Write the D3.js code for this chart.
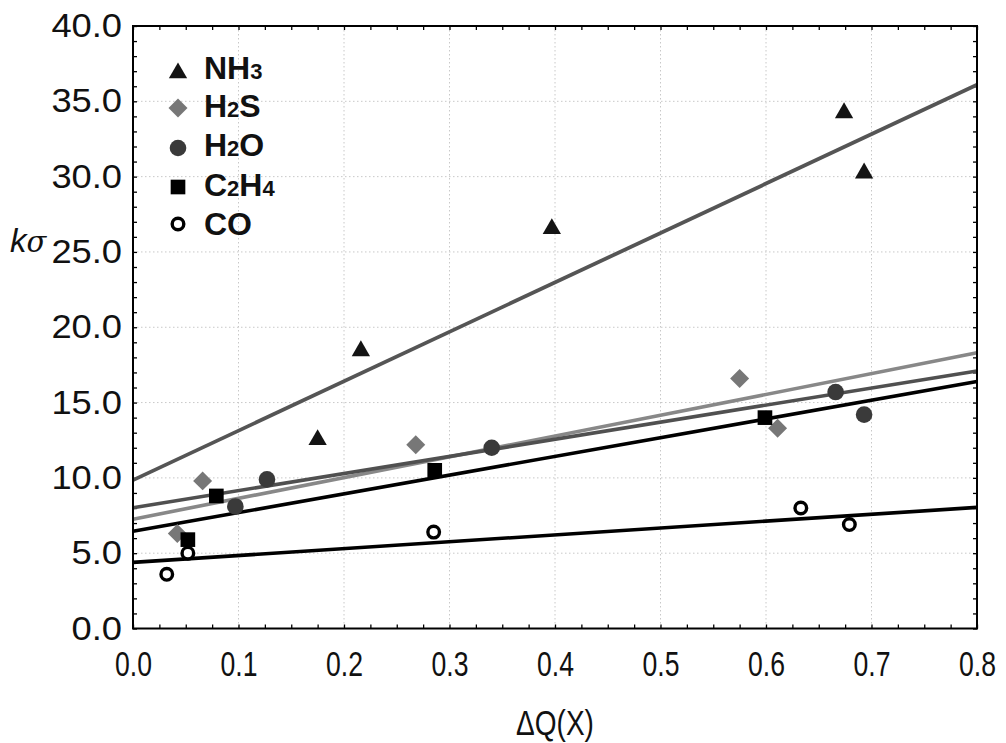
<!DOCTYPE html>
<html><head><meta charset="utf-8">
<script src="https://cdn.jsdelivr.net/npm/d3@7"></script>
<style>body{margin:0;background:#fff}svg{display:block}text{font-family:"Liberation Sans",Arial,sans-serif}</style>
</head><body>
<script>
// ---- data ----
const xTickValues = [0, 0.1, 0.2, 0.3, 0.4, 0.5, 0.6, 0.7, 0.8];
const yTickValues = [0, 5, 10, 15, 20, 25, 30, 35, 40];
const seriesNames = ["NH3", "H2S", "H2O", "C2H4", "CO"];
const nh3X = [0.175, 0.216, 0.397, 0.674, 0.693];
const nh3Y = [12.6, 18.5, 26.6, 34.3, 30.3];
const h2sX = [0.042, 0.066, 0.268, 0.575, 0.611];
const h2sY = [6.3, 9.8, 12.2, 16.6, 13.3];
const h2oX = [0.097, 0.127, 0.340, 0.666, 0.693];
const h2oY = [8.1, 9.9, 12.0, 15.7, 14.2];
const c2h4X = [0.052, 0.079, 0.286, 0.599];
const c2h4Y = [5.9, 8.8, 10.5, 14.0];
const coX = [0.032, 0.052, 0.285, 0.633, 0.679];
const coY = [3.6, 5.0, 6.4, 8.0, 6.9];
// fitted lines: value at x=0 and x=0.8
const fitAt0 = [9.85, 7.26, 8.02, 6.45, 4.39];
const fitAt08 = [36.1, 18.3, 17.1, 16.4, 8.04];

const W = 1006, H = 743;
const L = 133, R = 977, T = 26, B = 628.5;
const svg = d3.select("body").append("svg").attr("width", W).attr("height", H);
const x = d3.scaleLinear().domain([0, 0.8]).range([L, R]);
const y = d3.scaleLinear().domain([0, 40]).range([B, T]);

// grid
const grid = svg.append("g");
grid.selectAll("line.gx").data(xTickValues.slice(1, -1)).join("line")
  .attr("x1", d => x(d)).attr("x2", d => x(d)).attr("y1", T).attr("y2", B)
  .attr("stroke", "#c8c8c8").attr("stroke-width", 1).attr("stroke-dasharray", "1.5,2.5");
grid.selectAll("line.gy").data(yTickValues.slice(1, -1)).join("line")
  .attr("y1", d => y(d)).attr("y2", d => y(d)).attr("x1", L).attr("x2", R)
  .attr("stroke", "#c8c8c8").attr("stroke-width", 1).attr("stroke-dasharray", "1.5,2.5");

// ticks (inward, all four sides)
const xMinor = d3.range(0, 0.8001, 0.025);
const yMinor = d3.range(0, 40.001, 1);
const tk = svg.append("g");
tk.append("g").attr("transform", `translate(0,${B})`)
  .call(d3.axisBottom(x).tickValues(xMinor).tickSize(-4).tickFormat(""));
tk.append("g").attr("transform", `translate(0,${T})`)
  .call(d3.axisTop(x).tickValues(xMinor).tickSize(-4).tickFormat(""));
tk.append("g").attr("transform", `translate(${L},0)`)
  .call(d3.axisLeft(y).tickValues(yMinor).tickSize(-4).tickFormat(""));
tk.append("g").attr("transform", `translate(${R},0)`)
  .call(d3.axisRight(y).tickValues(yMinor).tickSize(-4).tickFormat(""));
tk.selectAll(".domain").remove();
tk.selectAll("line").attr("stroke", "#000").attr("stroke-width", 1.3);

// tick labels
const xsx = 0.76, ysx = 1.1;
svg.append("g").attr("transform", `translate(0,${B})`)
  .call(d3.axisBottom(x).tickValues(xTickValues).tickSize(0).tickPadding(23).tickFormat(d3.format(".1f")))
  .call(g => g.select(".domain").remove())
  .call(g => g.selectAll("text").attr("font-size", 35).attr("fill", "#111")
    .attr("font-family", "Liberation Sans, Arial").attr("transform", `scale(${xsx},1)`));
svg.append("g").attr("transform", `translate(${L},0)`)
  .call(d3.axisLeft(y).tickValues(yTickValues).tickSize(0).tickPadding(10).tickFormat(d3.format(".1f")))
  .call(g => g.select(".domain").remove())
  .call(g => g.selectAll("text").attr("font-size", 33).attr("fill", "#111")
    .attr("font-family", "Liberation Sans, Arial").attr("transform", `scale(${ysx},1)`));

// axis titles
svg.append("text").attr("transform", `translate(${(L + R) / 2},735) scale(0.8,1)`).attr("text-anchor", "middle")
  .attr("font-size", 35).attr("fill", "#111").text("ΔQ(X)");
const kt = svg.append("text").attr("x", 10).attr("y", 252).attr("font-size", 33).attr("fill", "#111").attr("font-style", "italic");
kt.append("tspan").text("k");
kt.append("tspan").attr("font-family", "DejaVu Serif").attr("font-size", 29).text("σ");

// fit lines
const lineColors = ["#555", "#888", "#505050", "#000", "#000"];
const lineWidths = [3.8, 3.6, 3.6, 3.6, 3.6];
svg.append("g").selectAll("line").data(seriesNames).join("line")
  .attr("x1", x(0)).attr("x2", x(0.8))
  .attr("y1", (d, i) => y(fitAt0[i])).attr("y2", (d, i) => y(fitAt08[i]))
  .attr("stroke", (d, i) => lineColors[i]).attr("stroke-width", (d, i) => lineWidths[i]);

// markers
const pts = (xs, ys) => xs.map((v, i) => [v, ys[i]]);
const tri = d3.symbol().type(d3.symbolTriangle).size(145);
const diamond = d3.symbol().type(d3.symbolSquare).size(180);
const sq = d3.symbol().type(d3.symbolSquare).size(215);
const mk = svg.append("g");
function drawTri(g, data) {
  g.selectAll(null).data(data).join("path").attr("d", tri())
    .attr("transform", d => `translate(${x(d[0])},${y(d[1]) + 1})`).attr("fill", "#141414");
}
function drawDiamond(g, data) {
  g.selectAll(null).data(data).join("path").attr("d", diamond())
    .attr("transform", d => `translate(${x(d[0])},${y(d[1])}) rotate(45)`).attr("fill", "#777");
}
function drawDot(g, data) {
  g.selectAll(null).data(data).join("circle").attr("cx", d => x(d[0])).attr("cy", d => y(d[1]))
    .attr("r", 8.3).attr("fill", "#3a3a3a");
}
function drawSq(g, data) {
  g.selectAll(null).data(data).join("path").attr("d", sq())
    .attr("transform", d => `translate(${x(d[0])},${y(d[1])})`).attr("fill", "#000");
}
function drawOpen(g, data) {
  g.selectAll(null).data(data).join("circle").attr("cx", d => x(d[0])).attr("cy", d => y(d[1]))
    .attr("r", 5.8).attr("fill", "#fff").attr("stroke", "#000").attr("stroke-width", 3.4);
}
drawDiamond(mk.append("g"), pts(h2sX, h2sY));
drawDot(mk.append("g"), pts(h2oX, h2oY));
drawSq(mk.append("g"), pts(c2h4X, c2h4Y));
drawOpen(mk.append("g"), pts(coX, coY));
drawTri(mk.append("g"), pts(nh3X, nh3Y));

// frame
svg.append("rect").attr("x", L).attr("y", T).attr("width", R - L).attr("height", B - T)
  .attr("fill", "none").attr("stroke", "#000").attr("stroke-width", 2);

// legend
const lg = svg.append("g");
const lx = 178;
const symY = [72, 108, 148, 187, 224];
const textY = [79, 117, 156, 196, 235];
[drawTri, drawDiamond, drawDot, drawSq, drawOpen].forEach((fn, i) => {
  fn(lg.append("g"), [[x.invert(lx), y.invert(symY[i])]]);
});
const legendParts = [[["NH", 0], ["3", 1]], [["H", 0], ["2", 1], ["S", 0]], [["H", 0], ["2", 1], ["O", 0]],
  [["C", 0], ["2", 1], ["H", 0], ["4", 1]], [["CO", 0]]];
legendParts.forEach((parts, i) => {
  const t = lg.append("text").attr("x", 204).attr("y", textY[i])
    .attr("font-size", 32).attr("font-weight", "bold").attr("fill", "#111");
  parts.forEach(p => t.append("tspan").attr("font-size", p[1] ? 22 : 32).text(p[0]));
});
</script>
</body></html>
